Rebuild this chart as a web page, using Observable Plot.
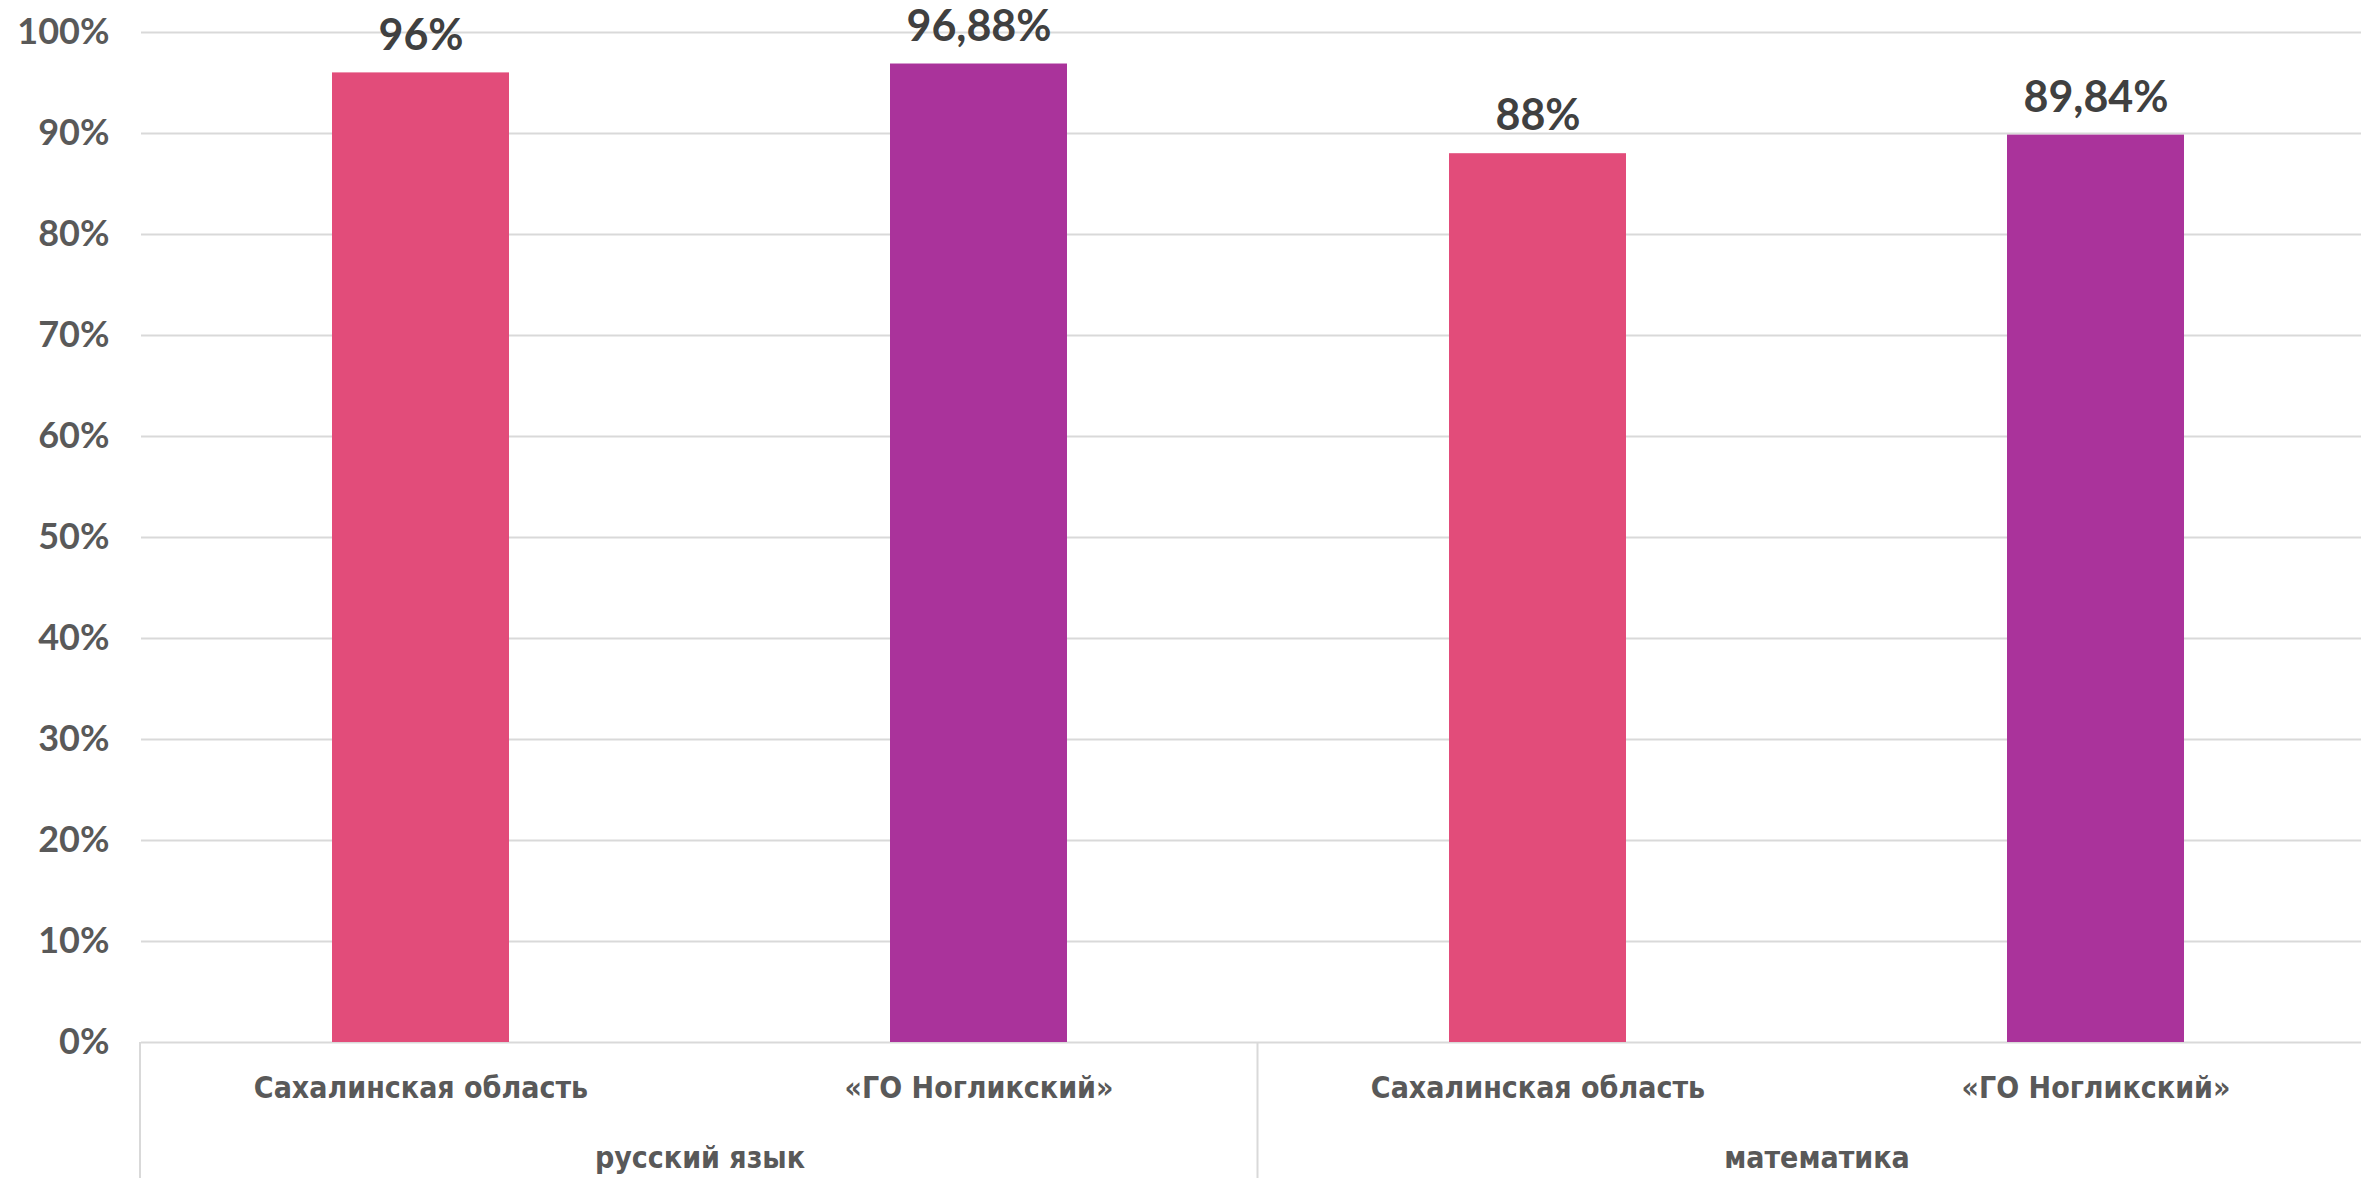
<!DOCTYPE html>
<html>
<head>
<meta charset="utf-8">
<script src="https://cdn.jsdelivr.net/npm/d3@7"></script>
<script src="https://cdn.jsdelivr.net/npm/@observablehq/plot@0.6"></script>
<style>
  html, body { margin: 0; padding: 0; background: #fff; overflow: hidden; }
  svg { display: block; }
</style>
</head>
<body>
<div id="chart"></div>
<script>
const subjects = ["русский язык", "математика"];
const regions = ["Сахалинская область", "«ГО Ногликский»"];
const values = [
  [96, 96.88],
  [88, 89.84]
];
const yTicks = [0, 10, 20, 30, 40, 50, 60, 70, 80, 90, 100];
const colors = ["#E24C7A", "#AA339B"];

const data = [];
subjects.forEach((s, i) => regions.forEach((r, j) => data.push({subject: s, region: r, value: values[i][j]})));

const W = 2361, H = 1178;
const ML = 140, MR = -14, MT = 32, MB = 136;
const fmt = v => String(v).replace(".", ",") + "%";
const numFont = "Lato, 'Open Sans', sans-serif";
const catFont = "'Liberation Sans Narrow', 'DejaVu Sans Condensed', Roboto, sans-serif";

const plot = Plot.plot({
  width: W,
  height: H,
  marginLeft: ML,
  marginRight: MR,
  marginTop: MT,
  marginBottom: MB,
  style: {background: "#fff", overflow: "hidden"},
  fx: {domain: subjects, padding: 0},
  x: {domain: regions, paddingInner: 0.683, paddingOuter: 0.3415},
  y: {domain: [0, 100]},
  color: {domain: regions, range: colors},
  marks: [
    Plot.gridY(yTicks, {stroke: "#d9d9d9", strokeOpacity: 1, strokeWidth: 2}),
    Plot.barY(data, {fx: "subject", x: "region", y: "value", fill: "region"}),
    Plot.text(data, {fx: "subject", x: "region", y: "value", text: d => fmt(d.value),
      dy: -37, lineAnchor: "middle", fontSize: 43, fontWeight: "bold", fill: "#404040", fontFamily: numFont}),
    Plot.axisY(yTicks, {tickSize: 0, tickPadding: 32, tickFormat: d => d + "%", fontSize: 36,
      fontWeight: "bold", fill: "#595959", fontFamily: numFont, label: null}),
    Plot.axisX({tickSize: 0, tickPadding: 34, fontSize: 30, fontWeight: "bold", fill: "#595959",
      fontFamily: catFont, label: null}),
    Plot.axisFx({anchor: "bottom", tickSize: 0, tickPadding: 104, fontSize: 30, fontWeight: "bold",
      fill: "#595959", fontFamily: catFont, label: null})
  ]
});

// Category frame lines below the baseline, positioned from the plot's own scales
const fx = plot.scale("fx");
const y = plot.scale("y");
const svg = d3.select(plot);
const plotW = W - ML - MR;
const y0 = MT + (H - MT - MB) * (1 - (0 - y.domain[0]) / (y.domain[1] - y.domain[0]));
fx.domain.forEach((s, i) => {
  const xs = ML + i * plotW / fx.domain.length;
  svg.append("line").attr("x1", xs).attr("x2", xs).attr("y1", y0).attr("y2", H)
    .attr("stroke", "#d9d9d9").attr("stroke-width", 2);
});

document.getElementById("chart").appendChild(plot);
</script>
</body>
</html>
